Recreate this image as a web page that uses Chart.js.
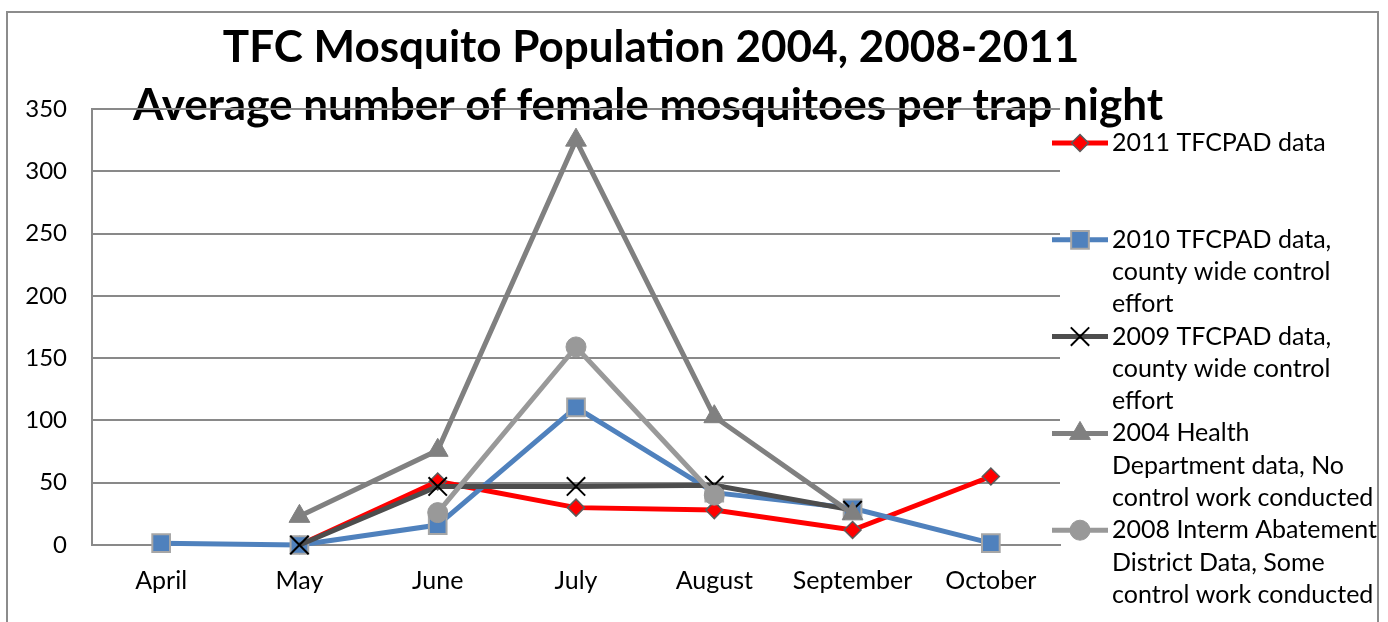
<!DOCTYPE html>
<html>
<head>
<meta charset="utf-8">
<script src="https://cdn.jsdelivr.net/npm/chart.js@4.4.1/dist/chart.umd.min.js"></script>
<style>
  html, body { margin: 0; padding: 0; background: #ffffff; }
  #wrap { width: 1388px; height: 622px; position: relative; }
</style>
</head>
<body>
<div id="wrap"><canvas id="c" width="1388" height="622"></canvas></div>
<script>
// Months on the category axis
const months = ['April', 'May', 'June', 'July', 'August', 'September', 'October'];

// Average number of female mosquitoes per trap night, by year
const data2011 = [null, 0, 51, 30, 28, 12, 55];
const data2010 = [1.5, 0, 16, 110.5, 42, 29.5, 1.5];
const data2009 = [null, 0, 47, 47, 48, 28, null];
const data2004 = [null, 23, 76, 325, 103, 25, null];
const data2008 = [null, null, 26, 159, 40, null, null];

// Legend text, one array of wrapped lines per series
const legend2011 = ['2011 TFCPAD data'];
const legend2010 = ['2010 TFCPAD data,', 'county wide control', 'effort'];
const legend2009 = ['2009 TFCPAD data,', 'county wide control', 'effort'];
const legend2004 = ['2004 Health', 'Department data, No', 'control work conducted'];
const legend2008 = ['2008 Interm Abatement', 'District Data, Some', 'control work conducted'];

const titleLines = ['TFC Mosquito Population 2004, 2008-2011',
                    'Average number of female mosquitoes per trap night'];

// Y axis range and step
const yMin = 0, yMax = 350, yStep = 50;

const FONT = 'Lato, "Open Sans", sans-serif';
const GRID = '#898989';

function series(label, values, lines, color, style, radius, fill, border, borderW, order) {
  return {
    label, data: values, legendLines: lines,
    borderColor: color, backgroundColor: color, borderWidth: 5,
    pointStyle: style, pointRadius: radius, pointHoverRadius: radius,
    pointBackgroundColor: fill, pointBorderColor: border, pointBorderWidth: borderW,
    tension: 0, spanGaps: false, clip: false, order
  };
}

const datasets = [
  series('2011', data2011, legend2011, '#FF0000', 'rectRot', 8.5, '#FF0000', '#5A5A5A', 1.5, 5),
  series('2010', data2010, legend2010, '#4F81BD', 'rect', 12.5, '#4F81BD', '#A6A6A6', 2, 4),
  series('2009', data2009, legend2009, '#4D4D4D', 'crossRot', 13, '#000000', '#000000', 2, 3),
  series('2004', data2004, legend2004, '#808080', 'triangle', 12, '#808080', '#808080', 1, 2),
  series('2008', data2008, legend2008, '#999999', 'circle', 10, '#999999', '#999999', 1, 1)
];

// Outer frame and two-line title, painted under the grid
const framePlugin = {
  id: 'frameTitle',
  beforeDraw(chart) {
    const ctx = chart.ctx;
    ctx.save();
    ctx.fillStyle = '#ffffff';
    ctx.fillRect(0, 0, chart.width, chart.height);
    ctx.strokeStyle = '#8C8C8C';
    ctx.lineWidth = 2;
    ctx.strokeRect(7, 12, 1371, 640);
    ctx.fillStyle = '#000000';
    ctx.font = 'bold 44px ' + FONT;
    ctx.textAlign = 'center';
    ctx.textBaseline = 'alphabetic';
    ctx.fillText(titleLines[0], 651, 62);
    ctx.fillText(titleLines[1], 648, 120);
    ctx.restore();
  }
};

// Legend drawn at the right with wrapped entries
const legendPlugin = {
  id: 'sideLegend',
  afterDraw(chart) {
    const ctx = chart.ctx;
    const x0 = 1052, x1 = 1108, tx = 1112;
    const top = 143, entryGap = 96.8, lineGap = 32.3;
    ctx.save();
    chart.data.datasets.forEach((ds, i) => {
      const y = top + i * entryGap;
      ctx.strokeStyle = ds.borderColor;
      ctx.lineWidth = ds.borderWidth;
      ctx.beginPath();
      ctx.moveTo(x0, y);
      ctx.lineTo(x1, y);
      ctx.stroke();
      ctx.fillStyle = ds.pointBackgroundColor;
      ctx.strokeStyle = ds.pointBorderColor;
      ctx.lineWidth = ds.pointBorderWidth;
      Chart.helpers.drawPoint(ctx, {
        pointStyle: ds.pointStyle, rotation: 0,
        radius: ds.pointRadius, borderWidth: ds.pointBorderWidth
      }, (x0 + x1) / 2, y);
      ctx.fillStyle = '#000000';
      ctx.font = '25px ' + FONT;
      ctx.textAlign = 'left';
      ctx.textBaseline = 'middle';
      ds.legendLines.forEach((t, k) => ctx.fillText(t, tx, y + k * lineGap));
    });
    ctx.restore();
  }
};

new Chart(document.getElementById('c'), {
  type: 'line',
  data: { labels: months, datasets },
  options: {
    responsive: false,
    animation: false,
    events: [],
    layout: { padding: { top: 109, right: 328, left: 0, bottom: 0 } },
    plugins: { legend: { display: false }, title: { display: false }, tooltip: { enabled: false } },
    scales: {
      x: {
        type: 'category',
        offset: true,
        grid: { display: false, drawTicks: false },
        border: { display: true, color: GRID, width: 2 },
        ticks: { color: '#000000', font: { family: FONT, size: 25 }, padding: 21, maxRotation: 0, autoSkip: false },
        afterFit(scale) { scale.height = 77; }
      },
      y: {
        min: yMin, max: yMax,
        grid: { color: GRID, lineWidth: 2, drawTicks: false },
        border: { display: true, color: GRID, width: 2 },
        ticks: { stepSize: yStep, color: '#000000', font: { family: FONT, size: 24 }, padding: 25 },
        afterFit(scale) { scale.width = 92; }
      }
    }
  },
  plugins: [framePlugin, legendPlugin]
});
</script>
</body>
</html>
